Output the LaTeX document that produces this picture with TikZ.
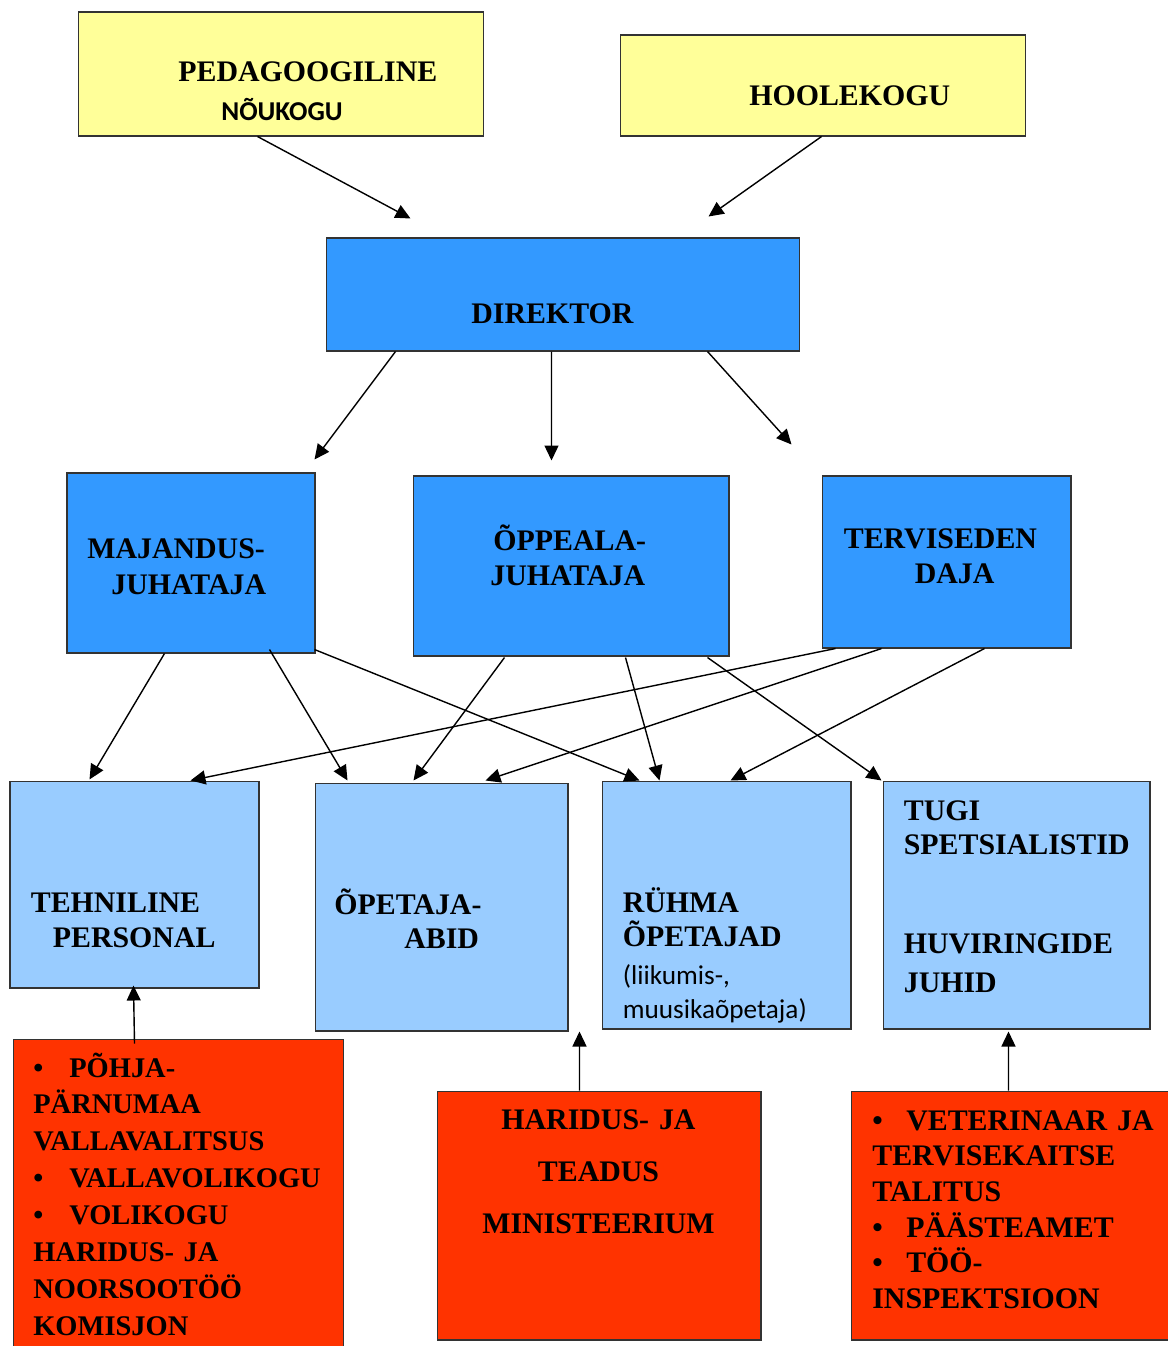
\documentclass[tikz,border=0pt]{standalone}
\usepackage{fontspec}
\setmainfont{Liberation Serif}
\newfontfamily\calib{Carlito}
\usetikzlibrary{calc,arrows.meta}

\definecolor{kollane}{HTML}{FFFF99}
\definecolor{sinine}{HTML}{3399FF}
\definecolor{helesinine}{HTML}{99CCFF}
\definecolor{punane}{HTML}{FF3300}

\tikzset{
  kast/.style={draw=black!80, line width=0.6pt, inner sep=0pt},
  silt/.style={font=\fontsize{17}{20}\selectfont\bfseries, inner sep=0pt, anchor=base west},
  nool/.style={-{Triangle[length=0.3cm,width=0.28cm]}, line width=0.8pt}
}

\begin{document}
\begin{tikzpicture}[x=0.02cm, y=-0.02cm]
  \useasboundingbox (0,0) rectangle (1167,1346);

  % Noukogud
  \node[kast, fill=kollane, minimum width=8.12cm, minimum height=2.48cm] (ped) at (281,74) {};
  \node[kast, fill=kollane, minimum width=8.12cm, minimum height=2.02cm] (hool) at (823,85.5) {};
  \node[silt] (ped1) at (178,81) {PEDAGOOGILINE};
  \node[silt, font=\fontsize{15.5}{18}\selectfont\calib\bfseries] (ped2) at (221,120) {NÕUKOGU};
  \node[silt] (hool1) at (749,105) {HOOLEKOGU};

  % Direktor
  \node[kast, fill=sinine, minimum width=9.48cm, minimum height=2.26cm] (dir) at (563,294.5) {};
  \node[silt] (dir1) at (471,323) {DIREKTOR};

  % Juhid
  \node[kast, fill=sinine, minimum width=4.96cm, minimum height=3.6cm] (maj) at (191,563) {};
  \node[kast, fill=sinine, minimum width=6.32cm, minimum height=3.6cm] (opp) at (571,566) {};
  \node[kast, fill=sinine, minimum width=4.98cm, minimum height=3.44cm] (terv) at (946.5,562) {};
  \node[silt] (maj1) at (87,558) {MAJANDUS-};
  \node[silt] (maj2) at (111,594) {JUHATAJA};
  \node[silt] (opp1) at (493,550) {ÕPPEALA-};
  \node[silt] (opp2) at (490,585) {JUHATAJA};
  \node[silt] (terv1) at (843.5,548) {TERVISEDEN};
  \node[silt] (terv2) at (914.5,583) {DAJA};

  % Personal
  \node[kast, fill=helesinine, minimum width=4.98cm, minimum height=4.14cm] (tehn) at (134.5,884.5) {};
  \node[kast, fill=helesinine, minimum width=5.06cm, minimum height=4.96cm] (abid) at (441.5,907) {};
  \node[kast, fill=helesinine, minimum width=4.98cm, minimum height=4.96cm] (ryhm) at (726.5,905) {};
  \node[kast, fill=helesinine, minimum width=5.34cm, minimum height=4.96cm] (tugi) at (1016.5,905) {};
  \node[silt] (tehn1) at (30.5,912) {TEHNILINE};
  \node[silt] (tehn2) at (52.5,947) {PERSONAL};
  \node[silt] (abid1) at (334,914) {ÕPETAJA-};
  \node[silt] (abid2) at (404,948) {ABID};
  \node[silt, text width=4.6cm, align=left, font=\fontsize{17}{19.4}\selectfont\bfseries] (ryhm1) at (622.5,912) {RÜHMA\\ÕPETAJAD};
  \node[silt, text width=4.6cm, align=left, font=\fontsize{15.5}{19.4}\selectfont\calib] (ryhm2) at (622.5,984) {(liikumis-,\\muusikaõpetaja)};
  \node[silt, text width=4.9cm, align=left, font=\fontsize{17}{19.4}\selectfont\bfseries] (tugi1) at (903.5,820) {TUGI\\SPETSIALISTID};
  \node[silt, text width=4.9cm, align=left, font=\fontsize{17}{22.7}\selectfont\bfseries] (tugi2) at (903.5,953) {HUVIRINGIDE\\JUHID};

  % Valised asutused
  \node[kast, fill=punane, minimum width=6.62cm, minimum height=6.22cm] (vald) at (178.5,1194.5) {};
  \node[kast, fill=punane, minimum width=6.48cm, minimum height=4.98cm] (min) at (599,1215.5) {};
  \node[kast, fill=punane, minimum width=6.38cm, minimum height=4.98cm] (vet) at (1010.5,1215.5) {};
  \node[silt, text width=6.4cm, align=left, font=\fontsize{16.2}{21}\selectfont\bfseries] (vald1) at (33,1077) {%
    \makebox[0.72cm][l]{\textbullet}PÕHJA-\\
    PÄRNUMAA\\
    VALLAVALITSUS\\
    \makebox[0.72cm][l]{\textbullet}VALLAVOLIKOGU\\
    \makebox[0.72cm][l]{\textbullet}VOLIKOGU\\
    HARIDUS- JA\\
    NOORSOOTÖÖ\\
    KOMISJON};
  \node[silt, anchor=base, text width=6cm, align=center, font=\fontsize{17}{29.8}\selectfont\bfseries] (min1) at (598.5,1129) {HARIDUS- JA\\TEADUS\\MINISTEERIUM};
  \node[silt, text width=6cm, align=left, font=\fontsize{17}{20.3}\selectfont\bfseries] (vet1) at (872,1130) {%
    \makebox[0.68cm][l]{\textbullet}VETERINAAR JA\\
    TERVISEKAITSE\\
    TALITUS\\
    \makebox[0.68cm][l]{\textbullet}PÄÄSTEAMET\\
    \makebox[0.68cm][l]{\textbullet}TÖÖ-\\
    INSPEKTSIOON};

  % Nooled
  \draw[nool] ($(ped.south west)+(180,0)$) -- ($(dir.north west)+(85,-19)$);
  \draw[nool] ($(hool.south west)+(202,0)$) -- ($(dir.north west)+(383,-21)$);

  \draw[nool] ($(dir.south west)+(70,0)$) -- ($(maj.north west)+(248,-13)$);
  \draw[nool] ($(dir.south west)+(226,0)$) -- ($(opp.north west)+(139,-15)$);
  \draw[nool] ($(dir.south west)+(382,0)$) -- ($(terv.north west)+(-30,-31)$);

  \draw[nool] ($(maj.south west)+(98,0)$) -- ($(tehn.north west)+(80,-1)$);
  \draw[nool] ($(maj.south west)+(203,-4)$) -- ($(abid.north west)+(33,-2)$);
  \draw[nool] ($(maj.south west)+(248,-4)$) -- ($(ryhm.north west)+(38,0)$);

  \draw[nool] ($(opp.south west)+(92,1)$) -- ($(abid.north west)+(99,-2)$);
  \draw[nool] ($(opp.south west)+(213,1)$) -- ($(ryhm.north west)+(58,0)$);
  \draw[nool] ($(opp.south west)+(295,1)$) -- ($(tugi.north west)+(-1,0)$);

  \draw[nool] ($(terv.south west)+(14,0)$) -- ($(tehn.north west)+(181,0)$);
  \draw[nool] ($(terv.south west)+(60,0)$) -- ($(abid.north west)+(171,-2)$);
  \draw[nool] ($(terv.south west)+(163,0)$) -- ($(ryhm.north west)+(129,0)$);

  \draw[nool] ($(vald.north west)+(122,5)$) -- ($(tehn.south west)+(124,-3)$);
  \draw[nool] ($(min.north west)+(143,0)$) -- ($(abid.south west)+(265,0)$);
  \draw[nool] ($(vet.north west)+(158,0)$) -- ($(tugi.south west)+(126,2)$);
\end{tikzpicture}
\end{document}
